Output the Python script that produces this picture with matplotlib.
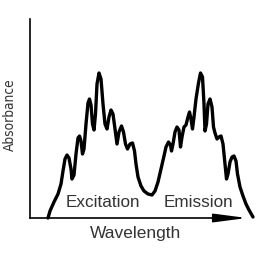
import matplotlib.pyplot as plt

# hand-drawn spectrum (arbitrary units)
exc_wavelength = [18, 20, 24, 28, 31, 33, 35, 37, 39, 41, 42, 44, 46, 48, 49.5, 51, 52.5, 54,
                  56, 58, 59.5, 61, 62.5, 64, 65.5, 67, 69, 71, 73, 75, 77, 79, 81, 83, 85, 87,
                  89, 91.5, 93.5, 95.5, 97.5, 100, 102.5, 104.5, 106, 108, 111, 114, 118, 122]
exc_absorbance = [0, 7, 16, 24, 34, 47, 59, 63, 60, 49, 39, 43, 64, 80, 82, 77, 64, 69,
                  94, 115, 119, 113, 94, 88, 104, 134, 145, 139, 114, 94, 89, 101, 108, 104, 89, 74,
                  86, 92, 86, 74, 69, 74, 75, 67, 54, 41, 32, 27, 24, 23]

emi_wavelength = [125, 128, 131, 134, 136, 138.5, 140.5, 141.5, 143, 145, 147, 149, 150.5, 152,
                  154, 156, 158, 159.5, 161, 162.5, 164, 166, 168.5, 170.5, 172.5, 174, 175,
                  176.5, 178, 180, 182, 183.5, 185, 187, 189, 191, 193, 195, 196.5, 198, 200,
                  202, 204, 206, 207.5, 210, 213, 216, 219, 223]
emi_absorbance = [27, 36, 49, 62, 71, 76, 73, 67, 74, 86, 91, 88, 71, 81,
                  91, 93, 101, 106, 99, 89, 101, 119, 135, 145, 141, 114, 87,
                  94, 114, 119, 111, 91, 85, 79, 81, 82, 74, 54, 39, 44, 56,
                  61, 62, 57, 44, 31, 22, 14, 8, 1]

labels = ["Excitation", "Emission"]
label_pos = [(72.5, 16), (168, 16)]

fig = plt.figure(figsize=(2.64, 2.55), dpi=100)
ax = fig.add_axes([30 / 264, 36 / 255, 230 / 264, 199 / 255])

wl = exc_wavelength + emi_wavelength
ab = exc_absorbance + emi_absorbance
ax.plot(wl, ab, color="black", lw=2.4, solid_joinstyle="round",
        solid_capstyle="round", clip_on=False)

ax.set_xlim(0, 230)
ax.set_ylim(0, 199)

# axes: left spine plus an arrow along the bottom
for s in ["top", "right", "bottom"]:
    ax.spines[s].set_visible(False)
ax.spines["left"].set_linewidth(1.2)
ax.annotate("", xy=(217, 0), xytext=(0, 0), xycoords="data",
            arrowprops=dict(arrowstyle="-|>,head_length=20,head_width=2.6",
                            mutation_scale=1, lw=1.2, color="black",
                            shrinkA=0, shrinkB=0),
            annotation_clip=False)
ax.set_xticks([])
ax.set_yticks([])

txt_color = "#333333"
font = "Liberation Sans"
for lab, (x, y) in zip(labels, label_pos):
    ax.text(x, y, lab, ha="center", va="center", fontsize=12.3,
            color=txt_color, family=font)

fig.text(136 / 264, 1 - 234 / 255, "Wavelength", ha="center", va="center",
         fontsize=12.5, color=txt_color, family=font)
fig.text(10 / 264, 1 - 115 / 255, "Absorbance", ha="center", va="center",
         rotation=90, fontsize=9.8, color=txt_color,
         family="DejaVu Sans", fontstretch="condensed")

fig.savefig("out.png", dpi=100)
